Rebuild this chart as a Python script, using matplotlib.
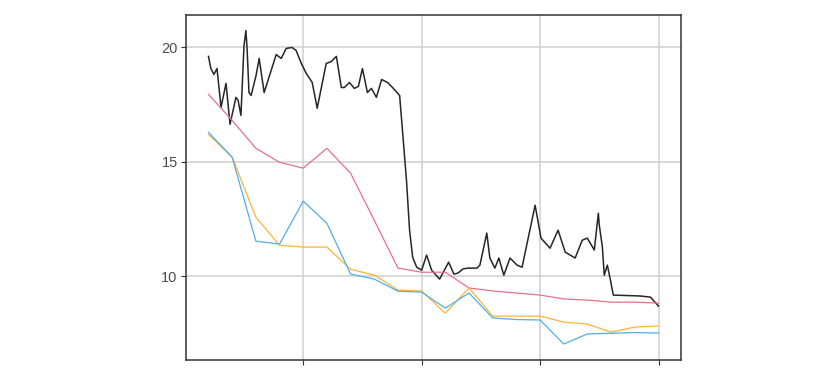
import matplotlib
matplotlib.use("Agg")
import matplotlib.pyplot as plt

# Colored series, x = 1..20
x_steps = list(range(1, 21))
red_vals = [17.95, 16.81, 15.59, 14.98, 14.72, 15.59, 14.50, 12.44, 10.35, 10.17,
            10.17, 9.48, 9.35, 9.26, 9.17, 9.00, 8.95, 8.86, 8.86, 8.82]
orange_vals = [16.20, 15.20, 12.58, 11.35, 11.27, 11.27, 10.30, 10.04, 9.39, 9.35,
               8.38, 9.48, 8.25, 8.25, 8.25, 7.99, 7.90, 7.55, 7.77, 7.82]
blue_vals = [16.29, 15.20, 11.53, 11.40, 13.28, 12.31, 10.09, 9.87, 9.34, 9.30,
             8.60, 9.26, 8.17, 8.10, 8.08, 7.03, 7.47, 7.50, 7.53, 7.51]

# Black series (finer resolution)
black_x = [1.00, 1.10, 1.23, 1.36, 1.53, 1.74, 1.91, 2.16, 2.25, 2.37, 2.50, 2.58, 2.63,
           2.71, 2.80, 3.01, 3.14, 3.35, 3.86, 4.07, 4.28, 4.53, 4.70, 4.92, 5.13, 5.38,
           5.59, 5.97, 6.19, 6.40, 6.61, 6.74, 6.95, 7.16, 7.33, 7.50, 7.71, 7.88, 8.09,
           8.31, 8.56, 8.77, 9.07, 9.19, 9.36, 9.49, 9.62, 9.79, 10.00, 10.21, 10.42,
           10.76, 11.14, 11.36, 11.53, 11.74, 11.95, 12.33, 12.46, 12.75, 12.88, 13.09,
           13.26, 13.47, 13.73, 14.03, 14.24, 14.79, 15.04, 15.42, 15.76, 16.06, 16.48,
           16.78, 16.99, 17.12, 17.29, 17.46, 17.50, 17.63, 17.71, 17.84, 17.97, 18.09,
           19.24, 19.66, 20.00]
black_vals = [19.61, 19.08, 18.82, 19.08, 17.38, 18.43, 16.64, 17.82, 17.69, 17.03, 20.09,
              20.74, 19.96, 18.03, 17.90, 18.78, 19.52, 18.03, 19.69, 19.52, 19.96, 20.00,
              19.87, 19.30, 18.86, 18.47, 17.34, 19.30, 19.39, 19.61, 18.25, 18.25, 18.47,
              18.21, 18.30, 19.08, 18.03, 18.21, 17.82, 18.60, 18.47, 18.25, 17.90, 16.38,
              14.19, 12.01, 10.83, 10.39, 10.26, 10.92, 10.26, 9.87, 10.61, 10.09, 10.13,
              10.31, 10.35, 10.35, 10.48, 11.88, 10.79, 10.35, 10.79, 10.04, 10.79, 10.48,
              10.39, 13.10, 11.66, 11.22, 12.01, 11.05, 10.79, 11.57, 11.66, 11.44, 11.14,
              12.75, 12.23, 11.27, 10.04, 10.48, 9.83, 9.17, 9.13, 9.08, 8.69]

y_ticks = [10, 15, 20]
x_ticks = [5, 10, 15, 20]

fig = plt.figure(figsize=(8.31, 3.70), dpi=100)
ax = fig.add_axes([0.2238, 0.027, 0.5957, 0.9324])

ax.plot(black_x, black_vals, color="#262626", lw=1.1, zorder=3)
ax.plot(x_steps, red_vals, color="#E8708A", lw=0.9, zorder=3)
ax.plot(x_steps, orange_vals, color="#FDB436", lw=0.9, zorder=3)
ax.plot(x_steps, blue_vals, color="#52AEEA", lw=0.9, zorder=3)

ax.set_xlim(0.05, 20.95)
ax.set_ylim(6.33, 21.42)
ax.set_yticks(y_ticks)
ax.set_yticklabels([str(t) for t in y_ticks])
ax.set_xticks(x_ticks)
ax.set_xticklabels([])
ax.grid(True, color="#d0d0d0", lw=1.1, zorder=0)
ax.set_axisbelow(True)
for s in ax.spines.values():
    s.set_color("#333333")
    s.set_linewidth(1.1)
ax.tick_params(axis="both", length=3.5, width=0.8, color="#333333",
               labelcolor="#4d4d4d", labelsize=10.5, pad=2.5)
for lab in ax.get_yticklabels():
    lab.set_fontfamily("Liberation Sans")

fig.savefig("out.png", dpi=100)
